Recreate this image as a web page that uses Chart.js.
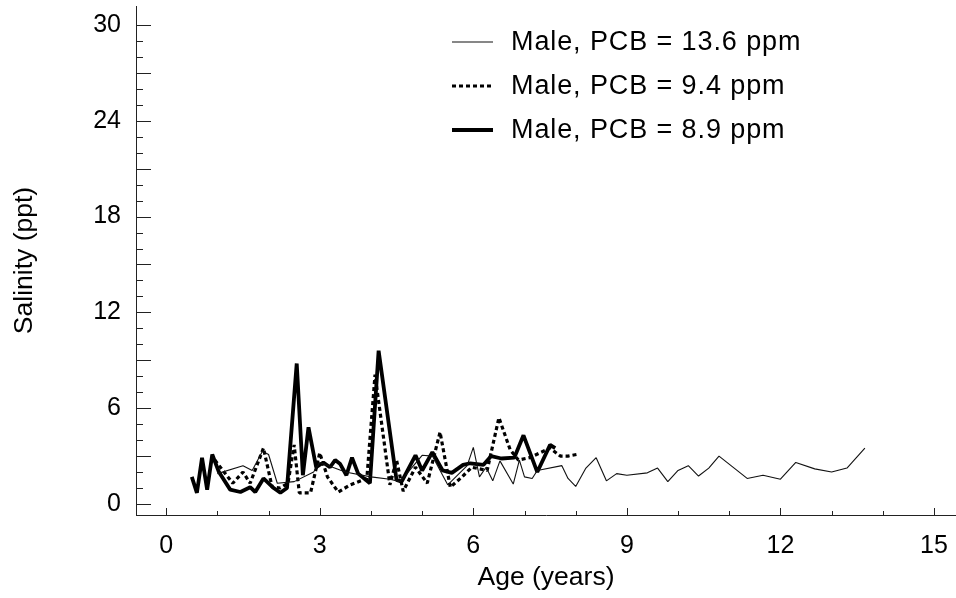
<!DOCTYPE html>
<html><head><meta charset="utf-8">
<script src="https://cdn.jsdelivr.net/npm/chart.js@4/dist/chart.umd.min.js"></script>
<style>html,body{margin:0;padding:0;background:#fff}</style>
</head><body>
<canvas id="c" width="956" height="598"></canvas>
<script>
const seriesNames = ['Male, PCB = 13.6 ppm', 'Male, PCB = 9.4 ppm', 'Male, PCB = 8.9 ppm'];

// Male, PCB = 13.6 ppm (thin line)
const ageA = [1.0,1.5,1.68,1.88,2.0,2.17,2.5,2.88,3.0,3.5,4.0,4.37,4.57,5.0,5.2,5.5,5.88,6.0,6.12,6.25,6.38,6.52,6.78,6.9,7.0,7.15,7.25,7.73,7.85,8.0,8.2,8.4,8.6,8.8,9.0,9.4,9.6,9.8,10.0,10.2,10.4,10.6,10.8,11.35,11.66,12.0,12.3,12.67,13.0,13.3,13.65];
const salA = [1.9,2.4,2.1,3.3,3.1,1.3,1.4,2.0,2.6,2.0,1.7,1.55,1.4,3.05,3.0,1.2,2.4,3.55,1.7,2.3,1.45,2.7,1.25,2.75,1.7,1.6,2.1,2.4,1.6,1.1,2.25,2.9,1.45,1.9,1.8,1.95,2.25,1.4,2.1,2.4,1.75,2.25,3.0,1.6,1.8,1.55,2.6,2.2,2.0,2.25,3.5];

// Male, PCB = 9.4 ppm (dotted line)
const ageB = [0.95,1.3,1.5,1.64,1.9,2.07,2.23,2.38,2.5,2.6,2.82,3.0,3.15,3.36,3.6,3.92,4.08,4.37,4.5,4.63,4.87,5.1,5.35,5.55,5.78,5.97,6.27,6.5,6.72,6.88,7.1,7.5,7.7,7.85,8.02];
const salB = [2.75,1.3,2.0,1.3,3.5,1.05,1.0,1.3,3.7,0.7,0.7,3.2,1.7,0.75,1.2,1.6,8.1,1.2,2.75,0.8,2.3,1.3,4.5,1.05,1.7,2.3,2.1,5.4,3.4,2.75,2.9,3.5,3.0,3.0,3.1];

// Male, PCB = 8.9 ppm (thick line)
const ageC = [0.5,0.6,0.7,0.8,0.9,1.03,1.25,1.45,1.64,1.74,1.9,2.1,2.23,2.36,2.55,2.67,2.78,2.93,3.07,3.2,3.3,3.4,3.52,3.63,3.75,3.98,4.15,4.5,4.6,4.87,5.0,5.2,5.4,5.58,5.8,5.94,6.2,6.35,6.55,6.8,6.98,7.25,7.5,7.6];
const salC = [1.7,0.7,2.9,0.9,3.1,2.0,0.9,0.75,1.05,0.75,1.6,1.0,0.7,1.0,8.8,1.8,4.8,2.3,2.6,2.3,2.75,2.5,1.8,2.9,1.9,1.3,9.6,1.5,1.4,3.05,2.1,3.25,2.1,1.95,2.45,2.55,2.45,3.0,2.85,2.9,4.3,2.0,3.7,3.5];

const xTickLabels = [0, 3, 6, 9, 12, 15];
const yTickLabels = [0, 6, 12, 18, 24, 30];

const toPts = (xs, ys) => xs.map((x, i) => ({x: x, y: ys[i]}));

const FONT = '"Liberation Sans", Arial, sans-serif';

const noPad = s => { s.paddingLeft = 0; s.paddingRight = 0; s.paddingTop = 0; s.paddingBottom = 0; };

const innerTicks = {
  id: 'innerTicks',
  afterDraw(chart) {
    const ctx = chart.ctx, xs = chart.scales.x, ys = chart.scales.y, a = chart.chartArea;
    ctx.save();
    ctx.strokeStyle = '#222';
    ctx.lineWidth = 1;
    const xMax = xTickLabels[xTickLabels.length - 1], yMax = yTickLabels[yTickLabels.length - 1];
    for (let v = 0; v <= xMax; v++) {
      const px = Math.round(xs.getPixelForValue(v)) + 0.5;
      const len = (v % 3 === 0) ? 7 : 4;
      ctx.beginPath(); ctx.moveTo(px, a.bottom); ctx.lineTo(px, a.bottom - len); ctx.stroke();
    }
    for (let v = 0; v <= yMax; v++) {
      const py = Math.round(ys.getPixelForValue(v)) + 0.5;
      const len = (v % 3 === 0) ? 15 : 7;
      ctx.beginPath(); ctx.moveTo(a.left, py); ctx.lineTo(a.left + len, py); ctx.stroke();
    }
    ctx.restore();
  }
};

const lineLegend = {
  id: 'lineLegend',
  afterDraw(chart) {
    const ctx = chart.ctx;
    ctx.save();
    chart.data.datasets.forEach((ds, i) => {
      const y = 42 + i * 44;
      ctx.beginPath();
      ctx.strokeStyle = ds.borderColor;
      ctx.lineWidth = ds.borderWidth;
      ctx.setLineDash(ds.borderDash || []);
      ctx.moveTo(452, y); ctx.lineTo(493, y); ctx.stroke();
      ctx.setLineDash([]);
      ctx.fillStyle = '#000';
      ctx.font = '27px ' + FONT;
      try { ctx.letterSpacing = '0.9px'; } catch (e) {}
      ctx.textBaseline = 'middle';
      ctx.textAlign = 'left';
      ctx.fillText(ds.label, 511, y + 1);
    });
    ctx.restore();
  }
};

new Chart(document.getElementById('c'), {
  type: 'line',
  data: {
    datasets: [
      {label: seriesNames[0], data: toPts(ageA, salA), borderColor: '#111', borderWidth: 1.1, borderJoinStyle: 'bevel', pointRadius: 0, tension: 0, fill: false},
      {label: seriesNames[1], data: toPts(ageB, salB), borderColor: '#000', borderWidth: 3.2, borderDash: [4, 3], borderJoinStyle: 'bevel', pointRadius: 0, tension: 0, fill: false},
      {label: seriesNames[2], data: toPts(ageC, salC), borderColor: '#000', borderWidth: 3.8, borderJoinStyle: 'bevel', pointRadius: 0, tension: 0, fill: false}
    ]
  },
  options: {
    responsive: false,
    devicePixelRatio: 1,
    animation: false,
    layout: {padding: {top: 6, right: 0, left: 0, bottom: 0}},
    plugins: {legend: {display: false}, tooltip: {enabled: false}},
    scales: {
      x: {
        type: 'linear', min: -0.59, max: 15.43,
        afterBuildTicks: s => { s.ticks = xTickLabels.map(v => ({value: v})); },
        afterFit: s => { s.height = 83; noPad(s); },
        grid: {display: true, drawOnChartArea: false, drawTicks: false},
        border: {display: true, color: '#222', width: 1},
        ticks: {color: '#000', font: {family: FONT, size: 25}, padding: 16, maxRotation: 0, autoSkip: false},
        title: {display: true, text: 'Age (years)', color: '#000', font: {family: FONT, size: 26.5}, padding: {top: 0, bottom: 4}}
      },
      y: {
        type: 'linear', min: -0.69, max: 31.19,
        afterBuildTicks: s => { s.ticks = yTickLabels.map(v => ({value: v})); },
        afterFit: s => { s.width = 136; noPad(s); },
        grid: {display: true, drawOnChartArea: false, drawTicks: false},
        border: {display: true, color: '#222', width: 1},
        ticks: {color: '#000', font: {family: FONT, size: 25}, padding: 15},
        title: {display: true, text: 'Salinity (ppt)', color: '#000', font: {family: FONT, size: 26.5}, padding: {top: 9, bottom: 0}}
      }
    }
  },
  plugins: [innerTicks, lineLegend]
});
</script>
</body></html>
